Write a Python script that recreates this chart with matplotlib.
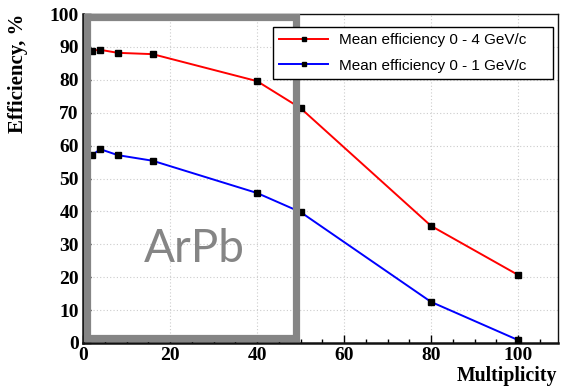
import matplotlib
matplotlib.use("Agg")
import matplotlib.pyplot as plt
from matplotlib.patches import Rectangle
from matplotlib.lines import Line2D
from matplotlib.ticker import MultipleLocator

# Mean reconstruction efficiency vs. event multiplicity
multiplicity = [2, 4, 8, 16, 40, 50, 80, 100]
eff_0_4 = [88.9, 89.1, 88.2, 87.8, 79.6, 71.4, 35.6, 20.7]
eff_0_1 = [57.1, 58.9, 57.1, 55.4, 45.6, 39.8, 12.5, 0.9]
labels = ["Mean efficiency 0 - 4 GeV/c", "Mean efficiency 0 - 1 GeV/c"]
colors = ["#ff0000", "#0000ff"]

serif = ["Liberation Serif", "DejaVu Serif"]
sans = ["Liberation Sans", "DejaVu Sans"]

fig = plt.figure(figsize=(5.61, 3.87), dpi=100)
ax = fig.add_axes([0.148, 0.1137, 0.8467, 0.8501])

for ys, c, lab in zip([eff_0_4, eff_0_1], colors, labels):
    ax.plot(multiplicity, ys, color=c, lw=1.4, marker="s", ms=4,
            mfc="black", mec="black", zorder=3, label=lab)

ax.set_xlim(0, 109.2)
ax.set_ylim(0, 100)
ax.xaxis.set_major_locator(MultipleLocator(20))
ax.xaxis.set_minor_locator(MultipleLocator(5))
ax.yaxis.set_major_locator(MultipleLocator(10))
ax.yaxis.set_minor_locator(MultipleLocator(2))
ax.tick_params(which="both", direction="in", top=False, right=False)
ax.tick_params(which="major", length=5.5, width=1.0, labelsize=14, pad=3)
ax.tick_params(which="minor", length=3, width=1.0)
for lab in ax.get_xticklabels() + ax.get_yticklabels():
    lab.set_family(serif)
    lab.set_fontweight("bold")
ax.grid(True, which="major", ls=(0, (1, 2)), color="#cccccc", lw=0.8)
ax.set_axisbelow(True)

for side in ("left", "bottom"):
    ax.spines[side].set_linewidth(1.8)
for side in ("top", "right"):
    ax.spines[side].set_linewidth(1.0)
for sp in ax.spines.values():
    sp.set_color("#111111")

# Highlight frame for the ArPb region
frame = Rectangle((0.8, 1.4), 48.2, 97.8, fill=False, ec="#858585", lw=5.2,
                  joinstyle="miter", zorder=4, clip_on=False)
ax.add_patch(frame)
ax.text(25.5, 28.5, "ArPb", color="#858585", fontsize=33,
        family=["Lato", "DejaVu Sans"], ha="center", va="center", zorder=4)

fig.text(0.032, 0.966, "Efficiency, %", rotation=90, ha="center", va="top",
         family=serif, fontweight="bold", fontsize=15)
fig.text(0.993, 0.002, "Multiplicity", ha="right", va="bottom",
         family=serif, fontweight="bold", fontsize=14.2)

# Legend handles with small markers
handles = [Line2D([], [], color=c, lw=1.4, marker="s", ms=3,
                  mfc="black", mec="black") for c in colors]
x0, x1 = 273 / 561, 553 / 561
y1, y0 = 1 - 27 / 387, 1 - 78 / 387
leg = ax.legend(handles, labels, loc="upper left",
                bbox_to_anchor=(x0, y0, x1 - x0, y1 - y0),
                bbox_transform=fig.transFigure, mode="expand",
                borderaxespad=0, frameon=True, fancybox=False,
                edgecolor="black", framealpha=1, borderpad=0.4,
                handlelength=3.2, handletextpad=0.75, labelspacing=0.75,
                prop={"family": sans, "size": 11})
leg.get_frame().set_linewidth(1.0)
leg.set_zorder(5)

fig.savefig("out.png", dpi=100)
